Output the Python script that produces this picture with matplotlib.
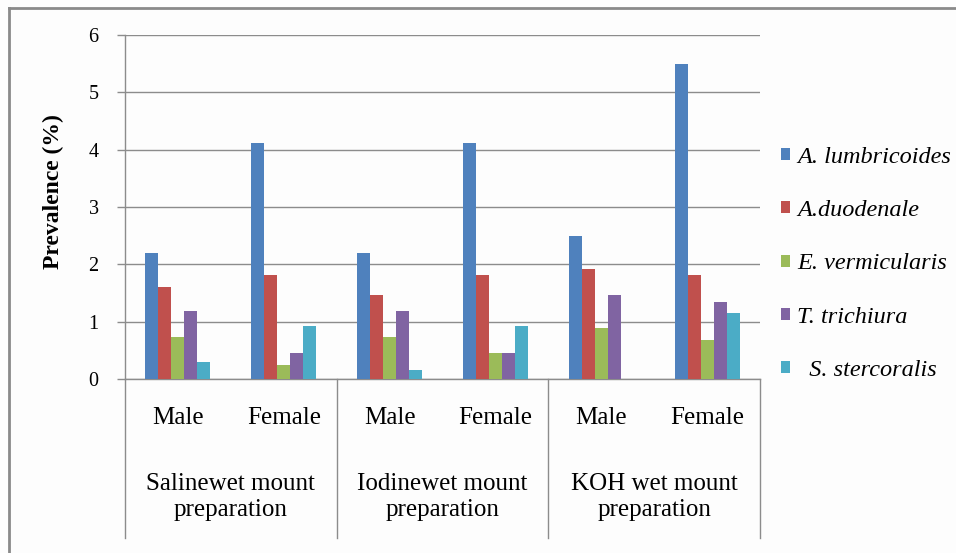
import matplotlib
matplotlib.use("Agg")
import matplotlib.pyplot as plt
import matplotlib.transforms as mtransforms
from matplotlib.patches import Patch
from matplotlib.lines import Line2D
import numpy as np

# Prevalence (%) of each parasite by sex and preparation method
sexes = ["Male", "Female", "Male", "Female", "Male", "Female"]
methods = ["Salinewet mount\npreparation", "Iodinewet mount\npreparation", "KOH wet mount\npreparation"]
species = ["A. lumbricoides", "A.duodenale", "E. vermicularis", "T. trichiura", "  S. stercoralis"]

a_lumbricoides = [2.2, 4.11, 2.2, 4.11, 2.5, 5.49]
a_duodenale = [1.61, 1.82, 1.46, 1.82, 1.92, 1.82]
e_vermicularis = [0.74, 0.24, 0.74, 0.45, 0.89, 0.68]
t_trichiura = [1.19, 0.45, 1.19, 0.45, 1.46, 1.35]
s_stercoralis = [0.30, 0.92, 0.15, 0.92, 0.0, 1.15]

series = [a_lumbricoides, a_duodenale, e_vermicularis, t_trichiura, s_stercoralis]
colors = ["#4F81BD", "#C0504D", "#9BBB59", "#8064A2", "#4BACC6"]
yticks = [0, 1, 2, 3, 4, 5, 6]

SERIF = ["Liberation Serif", "DejaVu Serif"]
GRID = "#8C8C8C"

W, H = 956, 553
fig = plt.figure(figsize=(W / 100, H / 100), dpi=100)
fig.patch.set_facecolor("#FDFDFD")

# outer frame (top and left edges)
fig.add_artist(Line2D([9 / W, 9 / W], [0, 1 - 8 / H], transform=fig.transFigure,
                      color="#8A8A8A", lw=2.0))
fig.add_artist(Line2D([9 / W, 1], [1 - 8 / H, 1 - 8 / H], transform=fig.transFigure,
                      color="#8A8A8A", lw=2.0))

x0, x1 = 125, 760
y0, y1 = 379, 35
ax = fig.add_axes([x0 / W, 1 - y0 / H, (x1 - x0) / W, (y0 - y1) / H])
ax.set_facecolor("none")

x = np.arange(len(sexes))
bw = 0.123
for i, (vals, col) in enumerate(zip(series, colors)):
    ax.bar(x + (i - 2) * bw, vals, width=bw, color=col, edgecolor="none",
           label=species[i], zorder=3)

ax.set_xlim(-0.5, len(sexes) - 0.5)
ax.set_ylim(0, 6)
ax.set_yticks(yticks)
ax.set_yticklabels([str(t) for t in yticks], fontsize=14.5, family=SERIF)
ax.tick_params(axis="y", length=6, width=1, color=GRID, pad=13)
ax.yaxis.grid(True, color=GRID, lw=1.0, zorder=0)
ax.set_axisbelow(True)

ax.set_xticks(x)
ax.set_xticklabels(sexes, fontsize=18, family=SERIF)
ax.tick_params(axis="x", length=0, pad=20.5)

for side in ["top", "right"]:
    ax.spines[side].set_visible(False)
for side in ["left", "bottom"]:
    ax.spines[side].set_color(GRID)
    ax.spines[side].set_linewidth(1.0)

trans = mtransforms.blended_transform_factory(ax.transData, ax.transAxes)
sep_bottom = -(538 - y0) / (y0 - y1)
for b in [-0.5, 1.5, 3.5, 5.5]:
    ax.add_line(Line2D([b, b], [0, sep_bottom], transform=trans, color=GRID,
                       lw=1.0, clip_on=False))
for g, label in enumerate(methods):
    ax.text(2 * g + 0.5, -(497 - y0) / (y0 - y1), label, transform=trans,
            ha="center", va="center", fontsize=18, family=SERIF,
            linespacing=1.2)

ax.set_ylabel("Prevalence (%)", fontsize=17, family=SERIF, fontweight="bold")
ax.yaxis.set_label_coords((64 - x0) / (x1 - x0), (y0 - 192) / (y0 - y1))

handles = [Patch(facecolor=c, edgecolor="none") for c in colors]
leg = ax.legend(handles, species, loc="center left",
                bbox_to_anchor=(771 / W, 1 - 264 / H), bbox_transform=fig.transFigure,
                frameon=False, handlelength=0.38, handleheight=0.38, handletextpad=0.3,
                labelspacing=1.33, borderaxespad=0,
                prop={"family": SERIF, "style": "italic", "size": 17.5})

fig.savefig("out.png", dpi=100, facecolor=fig.get_facecolor())
